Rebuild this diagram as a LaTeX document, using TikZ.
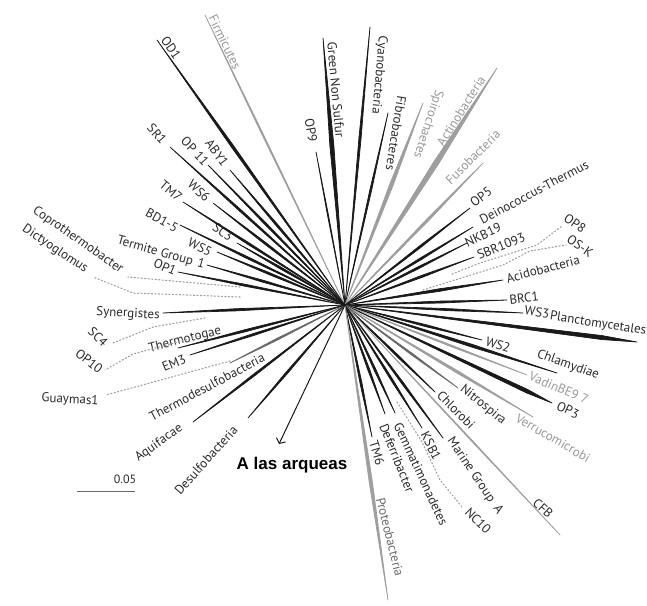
\documentclass[tikz,border=0pt]{standalone}
\usepackage{fontspec}
\setmainfont{PT Sans}
\newfontfamily\arialfont{Liberation Sans}
\usepackage{tikz}
\usetikzlibrary{calc, arrows.meta}
\definecolor{oscuro}{gray}{0.1}
\definecolor{claro}{gray}{0.62}
\definecolor{medio}{gray}{0.42}
\definecolor{texto}{gray}{0.17}
\definecolor{textoclaro}{gray}{0.6}
\tikzstyle{etiq} = [inner sep=0pt, text=texto, font=\fontsize{13}{14}\selectfont]
\tikzstyle{etiqgris} = [etiq, text=textoclaro]
\tikzstyle{punteada} = [claro, line width=1.1pt, dash pattern=on 1.2pt off 2.3pt, line cap=round]
\tikzset{
  rama/.style={line width=0.7pt, line join=round,
    to path={-- ($(\tikztostart)!0.6!(\tikztotarget)!#1!90:(\tikztotarget)$) -- (\tikztotarget)
      -- ($(\tikztostart)!0.6!(\tikztotarget)!#1!-90:(\tikztotarget)$) -- cycle}},
  cuna/.style={line width=0.7pt, line join=round,
    to path={-- ($(\tikztostart)!0.88!(\tikztotarget)!#1!90:(\tikztotarget)$) -- (\tikztotarget)
      -- ($(\tikztostart)!0.88!(\tikztotarget)!#1!-90:(\tikztotarget)$) -- cycle}},
}
\begin{document}
\begin{tikzpicture}[x=1pt, y=-1pt]
	\useasboundingbox[fill=white] (0,0) rectangle (647,605);
	\coordinate (O) at (345,305);

	% arriba
	\coordinate (p-od1) at (157,40);
	\filldraw[rama=1.3pt, oscuro] (O) to (p-od1);
	\node[etiq, rotate=-55] (od1) at (171,48) {OD1};

	\coordinate (p-firm) at (205,15);
	\filldraw[rama=0.7pt, claro] (O) to (p-firm);
	\node[etiqgris, rotate=-64] (firm) at (225,42) {Firmicutes};

	\coordinate (p-gns) at (323,38);
	\filldraw[rama=2pt, oscuro] (O) to (p-gns);
	\node[etiq, rotate=-85] (gns) at (336,90) {Green Non Sulfur};

	\coordinate (p-op9) at (316,152);
	\filldraw[rama=0.5pt, oscuro] (O) to (p-op9);
	\node[etiq, rotate=-80] (op9) at (311,130) {OP9};

	\coordinate (p-cyano) at (370,27);
	\filldraw[rama=1.1pt, oscuro] (O) to (p-cyano);
	\node[etiq, rotate=-95] (cyano) at (379,75) {Cyanobacteria};

	\coordinate (p-fibro) at (388,113);
	\filldraw[rama=0.9pt, oscuro] (O) to (p-fibro);
	\node[etiq, rotate=-99] (fibro) at (396,133) {Fibrobacteres};

	\coordinate (p-spiro) at (423,103);
	\filldraw[rama=1.8pt, claro] (O) to (p-spiro);
	\node[etiqgris, rotate=-108] (spiro) at (428,124) {Spirochaetes};

	\coordinate (p-actino) at (497,68);
	\filldraw[rama=2.6pt, claro] (O) to (p-actino);
	\node[etiqgris, rotate=58] (actino) at (461,111) {Actinobacteria};

	\coordinate (p-fuso) at (483,163);
	\filldraw[rama=1.2pt, claro] (O) to (p-fuso);
	\node[etiqgris, rotate=45] (fuso) at (473,157) {Fusobacteria};

	% derecha
	\coordinate (p-op5) at (470,208);
	\filldraw[rama=1pt, oscuro] (O) to (p-op5);
	\node[etiq, rotate=37] (op5) at (481,197) {OP5};

	\coordinate (p-deino) at (473,227);
	\filldraw[rama=1pt, oscuro] (O) to (p-deino);
	\node[etiq, rotate=28] (deino) at (534,192) {Deinococcus-Thermus};

	\coordinate (p-nkb) at (467,243);
	\filldraw[rama=1pt, oscuro] (O) to (p-nkb);
	\node[etiq, rotate=25] (nkb) at (483,235) {NKB19};

	\coordinate (p-sbr) at (474,257);
	\filldraw[rama=1pt, oscuro] (O) to (p-sbr);
	\node[etiq, rotate=22] (sbr) at (501,246) {SBR1093};

	\coordinate (q-op8) at (452,274);
	\coordinate (p-op8) at (562,226);
	\draw[punteada] (q-op8) -- (480,263) -- (537,245) -- (p-op8);
	\node[etiq, rotate=-35] (op8) at (575,223) {OP8};

	\coordinate (q-osk) at (423,290);
	\coordinate (p-osk) at (566,245);
	\draw[punteada] (q-osk) -- (503,265) -- (530,251) -- (p-osk);
	\node[etiq, rotate=-35] (osk) at (580,246) {OS-K};

	\coordinate (p-acido) at (503,280);
	\filldraw[rama=1.3pt, oscuro] (O) to (p-acido);
	\node[etiq, rotate=15] (acido) at (543,269) {Acidobacteria};

	\coordinate (p-brc1) at (507,300);
	\filldraw[rama=1pt, oscuro] (O) to (p-brc1);
	\node[etiq, rotate=7] (brc1) at (524,298) {BRC1};

	\coordinate (p-ws3) at (523,313);
	\filldraw[rama=1pt, oscuro] (O) to (p-ws3);
	\node[etiq, rotate=-8] (ws3) at (537,312) {WS3};

	\coordinate (p-planc) at (637,342);
	\filldraw[cuna=2pt, oscuro] (O) to (p-planc);
	\node[etiq, rotate=-9] (planc) at (598,324) {Planctomycetales};

	\coordinate (p-ws2) at (482,340);
	\filldraw[rama=1pt, oscuro] (O) to (p-ws2);
	\node[etiq, rotate=-18] (ws2) at (498,345) {WS2};

	\coordinate (p-chlam) at (557,373);
	\filldraw[rama=1.4pt, oscuro] (O) to (p-chlam);
	\node[etiq, rotate=-20] (chlam) at (568,365) {Chlamydiae};

	\coordinate (p-vadin) at (527,375);
	\filldraw[rama=0.8pt, claro] (O) to (p-vadin);
	\node[etiqgris, rotate=-23] (vadin) at (559,388) {VadinBE9 7};

	\coordinate (p-op3) at (552,403);
	\filldraw[cuna=1.8pt, oscuro] (O) to (p-op3);
	\node[etiq, rotate=-25] (op3) at (568,410) {OP3};

	\coordinate (p-verru) at (533,417);
	\filldraw[rama=1.2pt, claro] (O) to (p-verru);
	\node[etiqgris, rotate=-30] (verru) at (553,438) {Verrucomicrobi};

	% abajo
	\coordinate (p-nitro) at (458,388);
	\filldraw[rama=0.9pt, medio] (O) to (p-nitro);
	\node[etiq, rotate=-39] (nitro) at (483,405) {Nitrospira};

	\coordinate (p-chloro) at (435,392);
	\filldraw[rama=1pt, oscuro] (O) to (p-chloro);
	\node[etiq, rotate=-45] (chloro) at (456,410) {Chlorobi};

	\coordinate (p-cfb) at (560,535);
	\filldraw[rama=0.5pt, claro] (O) to (p-cfb);
	\node[etiq, rotate=-42] (cfb) at (543,508) {CFB};

	\coordinate (p-marine) at (443,438);
	\filldraw[rama=1pt, oscuro] (O) to (p-marine);
	\node[etiq, rotate=-56] (marine) at (475,476) {Marine Group\ \ A};

	\coordinate (q-nc10) at (397,402);
	\coordinate (p-nc10) at (462,507);
	\draw[punteada] (q-nc10) -- (422,442) -- (440,480) -- (p-nc10);
	\node[etiq, rotate=-45] (nc10) at (478,521) {NC10};

	\coordinate (p-ksb1) at (422,428);
	\filldraw[rama=1pt, oscuro] (O) to (p-ksb1);
	\node[etiq, rotate=-63] (ksb1) at (431,446) {KSB1};

	\coordinate (p-gemma) at (395,413);
	\filldraw[rama=1pt, oscuro] (O) to (p-gemma);
	\node[etiq, rotate=-65] (gemma) at (421,474) {Gemmatimonadetes};

	\coordinate (p-defer) at (385,414);
	\filldraw[rama=1pt, oscuro] (O) to (p-defer);
	\node[etiq, rotate=-68] (defer) at (397,458) {Deferribacter};

	\coordinate (p-tm6) at (372,437);
	\filldraw[rama=1pt, oscuro] (O) to (p-tm6);
	\node[etiq, rotate=-73] (tm6) at (377,453) {TM6};

	\coordinate (p-proteo) at (388,600);
	\filldraw[rama=1.6pt, claro] (O) to (p-proteo);
	\node[etiq, text=medio, rotate=-76] (proteo) at (390,537) {Proteobacteria};

	\coordinate (p-arq) at (279,444);
	\draw[-{Straight Barb[length=4pt, width=10pt]}, line width=1pt, oscuro] (O) -- (p-arq);
	\node[inner sep=0pt, font=\arialfont\bfseries\fontsize{17}{18}\selectfont] (arq) at (292,465) {A las arqueas};

	% izquierda abajo
	\coordinate (p-desulfo) at (248,418);
	\filldraw[rama=1pt, oscuro] (O) to (p-desulfo);
	\node[etiq, rotate=48] (desulfo) at (206,460) {Desulfobacteria};

	\coordinate (p-aqui) at (193,422);
	\filldraw[rama=1pt, oscuro] (O) to (p-aqui);
	\node[etiq, rotate=35] (aqui) at (159,443) {Aquifacae};

	\coordinate (p-tdesulfo) at (230,363);
	\filldraw[rama=0.9pt, medio] (O) to (p-tdesulfo);
	\node[etiq, rotate=28] (tdesulfo) at (207,387) {Thermodesulfobacteria};

	\coordinate (p-em3) at (190,355);
	\filldraw[rama=1pt, oscuro] (O) to (p-em3);
	\node[etiq, rotate=22] (em3) at (174,363) {EM3};

	\coordinate (p-thermo) at (178,348);
	\filldraw[rama=1.1pt, oscuro] (O) to (p-thermo);
	\node[etiq, rotate=14] (thermo) at (185,340) {Thermotogae};

	\coordinate (q-sc4) at (205,318);
	\coordinate (p-sc4) at (113,343);
	\draw[punteada] (q-sc4) -- (153,327) -- (p-sc4);
	\node[etiq, rotate=-45] (sc4) at (98,337) {SC4};

	\coordinate (q-op10) at (200,336);
	\coordinate (p-op10) at (105,370);
	\draw[punteada] (q-op10) -- (133,354) -- (p-op10);
	\node[etiq, rotate=-38] (op10) at (89,361) {OP10};

	\coordinate (q-guay) at (230,361);
	\coordinate (p-guay) at (106,395);
	\draw[punteada] (q-guay) -- (p-guay);
	\node[etiq, rotate=-3] (guay) at (70,400) {Guaymas1};

	\coordinate (p-syn) at (163,313);
	\filldraw[rama=1.1pt, oscuro] (O) to (p-syn);
	\node[etiq, rotate=-3] (syn) at (128,314) {Synergistes};

	% izquierda arriba
	\coordinate (q-dicty) at (240,297);
	\coordinate (p-dicty) at (93,277);
	\draw[punteada] (q-dicty) -- (133,293) -- (p-dicty);
	\node[etiq, rotate=-34] (dicty) at (55,249) {Dictyoglomus};

	\coordinate (q-copro) at (240,287);
	\coordinate (p-copro) at (128,277);
	\draw[punteada] (q-copro) -- (p-copro);
	\node[etiq, rotate=-35] (copro) at (78,240) {Coprothermobacter};

	\coordinate (p-op1) at (178,272);
	\filldraw[rama=1pt, oscuro] (O) to (p-op1);
	\node[etiq, rotate=-23] (op1) at (165,267) {OP1};

	\coordinate (p-termite) at (207,265);
	\filldraw[rama=1pt, oscuro] (O) to (p-termite);
	\node[etiq, rotate=-16] (termite) at (161,253) {Termite Group\hspace{5pt}1};

	\coordinate (p-ws5) at (217,252);
	\filldraw[rama=1pt, oscuro] (O) to (p-ws5);
	\node[etiq, rotate=-27] (ws5) at (200,247) {WS5};

	\coordinate (p-bd15) at (180,225);
	\filldraw[rama=1pt, oscuro] (O) to (p-bd15);
	\node[etiq, rotate=-29] (bd15) at (162,220) {BD1-5};

	\coordinate (p-sc3) at (237,243);
	\filldraw[rama=1pt, oscuro] (O) to (p-sc3);
	\node[etiq, rotate=-37] (sc3) at (223,232) {SC3};

	\coordinate (p-tm7) at (183,202);
	\filldraw[rama=1pt, oscuro] (O) to (p-tm7);
	\node[etiq, rotate=-40] (tm7) at (171,191) {TM7};

	\coordinate (p-ws6) at (213,203);
	\filldraw[rama=1pt, oscuro] (O) to (p-ws6);
	\node[etiq, rotate=-43] (ws6) at (199,191) {WS6};

	\coordinate (p-sr1) at (170,147);
	\filldraw[rama=1pt, oscuro] (O) to (p-sr1);
	\node[etiq, rotate=-48] (sr1) at (157,134) {SR1};

	\coordinate (p-op11) at (208,165);
	\filldraw[rama=1pt, oscuro] (O) to (p-op11);
	\node[etiq, rotate=-47] (op11) at (195,151) {OP 11};

	\coordinate (p-aby1) at (230,170);
	\filldraw[rama=1pt, oscuro] (O) to (p-aby1);
	\node[etiq, rotate=-54] (aby1) at (217,153) {ABY1};

	% escala
	\coordinate (b1) at (77,491);
	\coordinate (b2) at (135,491);
	\draw[medio, line width=1pt] (b1) -- (b2);
	\node[etiq, font=\fontsize{12}{13}\selectfont] (escala) at (125,479) {0.05};
\end{tikzpicture}
\end{document}
